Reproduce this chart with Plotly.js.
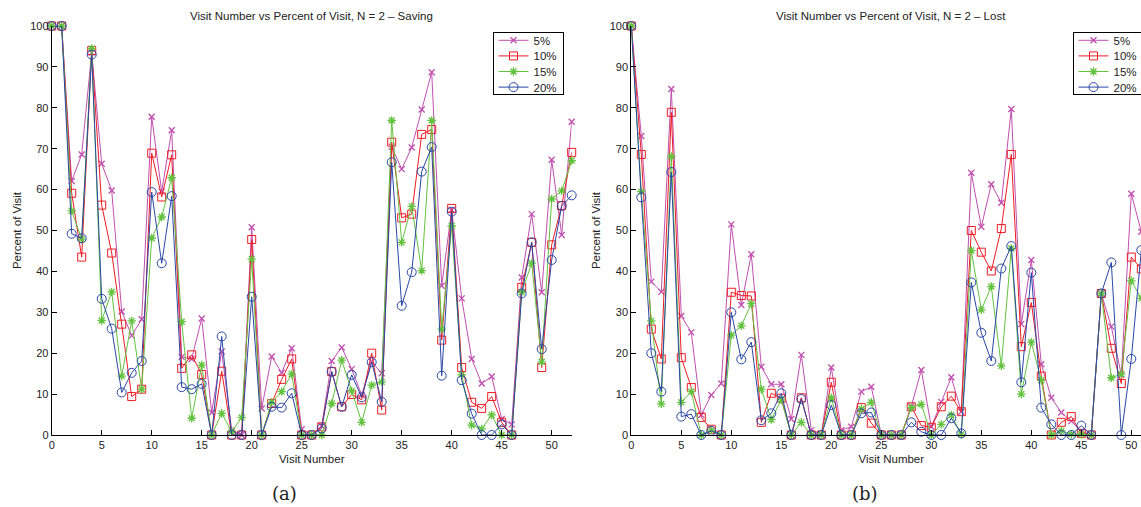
<!DOCTYPE html>
<html>
<head>
<meta charset="utf-8">
<script src="https://cdn.plot.ly/plotly-3.0.1.min.js"></script>
<style>
  html, body { margin: 0; padding: 0; overflow: hidden; background: #fff; }
  #chart { width: 1160px; height: 507px; }
</style>
</head>
<body>
<div id="chart"></div>
<script>
// Visit numbers (x values shared by every series)
const visits = [0,1,2,3,4,5,6,7,8,9,10,11,12,13,14,15,16,17,18,19,20,21,22,23,24,25,
                26,27,28,29,30,31,32,33,34,35,36,37,38,39,40,41,42,43,44,45,46,47,48,49,50,51,52];

const seriesNames = ["5%", "10%", "15%", "20%"];

// (a) Saving — percent of visit per threshold
const saving5  = [100,100,62.1,68.6,93.5,66.3,59.8,30.2,24.3,28.3,77.8,59.5,74.5,19.1,18.6,28.5,5.5,20.4,1.2,0,50.8,6.5,19.2,15.2,21.2,1.4,0,2.2,18.1,21.4,16.1,9.8,17.9,15.1,70.5,65.0,70.3,79.6,88.7,36.5,55.0,33.4,18.6,12.6,14.3,3.9,2.6,38.5,54.0,34.9,67.3,48.9,76.6];
const saving10 = [100,100,59.1,43.5,94.0,56.2,44.5,27.1,9.4,11.2,68.9,58.2,68.5,16.3,19.6,14.8,0,15.6,0,0,47.8,0,7.7,13.6,18.6,0,0,2.0,15.5,6.9,9.9,8.6,20.0,6.1,71.6,53.1,54.0,73.5,74.7,23.2,55.4,16.5,8.0,6.5,9.4,3.1,0,36.1,47.1,16.5,46.5,56.1,69.1];
const saving15 = [100,100,54.8,47.9,94.5,28.0,35.0,14.4,27.9,11.2,48.1,53.3,62.9,27.7,4.1,17.1,0,5.3,0.8,4.3,43.0,0,8.0,10.6,14.9,0,0,0,7.7,18.3,10.8,3.1,12.2,13.0,76.9,47.1,55.9,40.2,76.9,25.9,51.1,14.7,2.4,1.5,4.9,0,0,34.9,42.0,17.9,57.7,59.7,67.1];
const saving20 = [100,100,49.2,48.1,93.0,33.3,26.0,10.4,15.2,18.1,59.4,42.0,58.4,11.7,11.2,12.5,0,24.1,0,0,33.8,0,6.9,6.7,10.2,0,0,1.6,15.5,6.9,14.7,9.2,17.8,8.1,66.7,31.6,39.8,64.4,70.4,14.5,54.6,13.4,5.2,0,0,2.6,0,34.6,47.1,21.0,42.8,56.0,58.6];

// (b) Lost — percent of visit per threshold
const lost5  = [100,73.1,37.5,35.0,84.6,29.1,25.1,4.9,9.8,12.6,51.5,31.8,44.2,16.7,12.4,12.4,3.9,19.6,1.2,0.2,16.5,1.2,2.0,10.6,11.8,0,0,0,7.0,15.9,2.0,8.1,14.1,5.7,64.1,50.9,61.3,56.8,79.7,27.1,42.8,17.3,9.1,5.5,3.4,0.8,0,34.6,26.5,14.7,59.0,49.7,55.0];
const lost10 = [100,68.6,25.9,18.6,78.9,18.9,11.6,4.3,1.4,0,34.9,34.1,34.0,3.1,10.2,9.0,0,9.1,0,0,12.9,0,0,6.7,2.9,0,0,0,6.9,2.3,1.9,6.9,9.5,5.7,50.0,44.7,40.1,50.5,68.6,21.6,32.4,14.4,0,3.1,4.5,0.4,0,34.6,21.2,12.6,43.5,40.6,42.0];
const lost15 = [100,59.5,27.9,7.6,68.1,8.0,10.6,0,1.2,0,24.4,26.7,32.1,11.2,3.8,8.6,0,3.1,0,0,9.1,0,0,6.4,8.0,0,0,0,6.7,7.5,0,2.6,4.9,0.2,45.1,30.6,36.3,16.9,45.6,10.0,22.7,13.4,0,1.0,0.2,0.2,0,34.6,14.0,14.9,37.7,33.4,36.0];
const lost20 = [100,58.1,20.0,10.6,64.3,4.5,5.1,0,1.0,0,30.0,18.5,22.7,3.6,5.3,10.2,0,8.8,0,0,7.3,0,0,5.3,5.5,0,0,0,3.1,0.8,0,0,4.1,0.4,37.3,25.0,18.1,40.7,46.2,12.9,39.7,6.7,2.6,0,0,2.3,0,34.6,42.2,0,18.6,45.2,47.0];

const xTicks = [0,5,10,15,20,25,30,35,40,45,50];
const yTicks = [0,10,20,30,40,50,60,70,80,90,100];

// Figure geometry in pixels
const W = 1160, H = 507;
const px = v => v / W;
const py = v => 1 - v / H;

const styles = [
  { color: "#c04fae", symbol: "x-thin-open",   size: 6, lw: 1.3 },
  { color: "#ee1c24", symbol: "square-open",   size: 8, lw: 1 },
  { color: "#62c23e", symbol: "asterisk-open", size: 7, lw: 1.3 },
  { color: "#2a47a6", symbol: "circle-open",   size: 9, lw: 1 }
];

function makeTraces(seriesList, xa, ya, legendId) {
  return seriesList.map((ys, i) => ({
    type: "scatter",
    mode: "lines+markers",
    x: visits,
    y: ys,
    xaxis: xa,
    yaxis: ya,
    name: seriesNames[i],
    legend: legendId,
    cliponaxis: false,
    line: { color: styles[i].color, width: 1 },
    marker: {
      symbol: styles[i].symbol,
      size: styles[i].size,
      color: styles[i].color,
      line: { color: styles[i].color, width: styles[i].lw }
    }
  }));
}

const data = [
  ...makeTraces([saving5, saving10, saving15, saving20], "x", "y", "legend"),
  ...makeTraces([lost5, lost10, lost15, lost20], "x2", "y2", "legend2")
];

const tickFont = { family: "Liberation Sans, Arial, sans-serif", size: 11, color: "#222" };
const titleFont = { family: "Liberation Sans, Arial, sans-serif", size: 11.5, color: "#222" };

function xAxis(d0, d1, anchor) {
  return {
    domain: [px(d0), px(d1)], anchor: anchor, range: [0, 52],
    tickvals: xTicks, ticks: "inside", ticklen: 5, tickcolor: "#000", tickwidth: 1,
    showline: true, linecolor: "#000", linewidth: 1, mirror: false,
    showgrid: false, zeroline: false, tickfont: tickFont, automargin: false,
    title: { text: "Visit Number", font: titleFont, standoff: 4 }
  };
}
function yAxis(anchor) {
  return {
    domain: [py(435), py(26)], anchor: anchor, range: [0, 100],
    tickvals: yTicks, ticks: "inside", ticklen: 5, tickcolor: "#000", tickwidth: 1,
    showline: true, linecolor: "#000", linewidth: 1, mirror: false,
    showgrid: false, zeroline: false, tickfont: tickFont, automargin: false,
    title: { text: "Percent of Visit", font: titleFont, standoff: 6 }
  };
}

const legendBase = {
  bgcolor: "#fff", bordercolor: "#000", borderwidth: 1,
  font: { family: "Liberation Sans, Arial, sans-serif", size: 11.5, color: "#222" },
  xanchor: "left", yanchor: "top", tracegroupgap: 0, itemwidth: 30
};

const layout = {
  width: W, height: H,
  margin: { l: 0, r: 0, t: 0, b: 0 },
  paper_bgcolor: "#fff", plot_bgcolor: "#fff",
  showlegend: true,
  xaxis: xAxis(51.7, 571.7, "y"),
  yaxis: yAxis("x"),
  xaxis2: xAxis(631.3, 1151.3, "y2"),
  yaxis2: yAxis("x2"),
  legend: Object.assign({ x: px(492.5), y: py(31.5) }, legendBase),
  legend2: Object.assign({ x: px(1072.5), y: py(31.5) }, legendBase),
  annotations: [
    { text: "Visit Number vs Percent of Visit, N = 2 – Saving", xref: "paper", yref: "paper",
      x: px(311.7), y: py(16), xanchor: "center", yanchor: "middle", showarrow: false, font: titleFont },
    { text: "Visit Number vs Percent of Visit, N = 2 – Lost", xref: "paper", yref: "paper",
      x: px(891.3), y: py(16), xanchor: "center", yanchor: "middle", showarrow: false, font: titleFont },
    { text: "(a)", xref: "paper", yref: "paper", x: px(284), y: py(493),
      xanchor: "center", yanchor: "middle", showarrow: false,
      font: { family: "DejaVu Serif, Liberation Serif, serif", size: 18, color: "#222" } },
    { text: "(b)", xref: "paper", yref: "paper", x: px(865), y: py(493),
      xanchor: "center", yanchor: "middle", showarrow: false,
      font: { family: "DejaVu Serif, Liberation Serif, serif", size: 18, color: "#222" } }
  ]
};

// Tighten the legend rows: fixed row pitch and a box that hugs the four entries
function compactLegends(gd) {
  const STEP = 15.6, FIRST = 8.8, BOTTOM = 7.2;
  gd.querySelectorAll("g.legend, g.legend2").forEach(lg => {
    const items = Array.from(lg.querySelectorAll("g.traces"));
    if (!items.length) return;
    const m = /translate\(\s*([-\d.]+)[ ,]+([-\d.]+)\s*\)/.exec(items[0].getAttribute("transform") || "");
    if (!m) return;
    const x0 = parseFloat(m[1]);
    const bg = lg.querySelector("rect.bg");
    const groups = lg.querySelector("g.groups");
    let gy = 0;
    if (groups) {
      const gm = /translate\(\s*([-\d.]+)[ ,]+([-\d.]+)\s*\)/.exec(groups.getAttribute("transform") || "");
      if (gm) gy = parseFloat(gm[2]);
    }
    items.forEach((it, i) => it.setAttribute("transform", `translate(${x0},${FIRST - gy + i * STEP})`));
    if (bg) bg.setAttribute("height", FIRST + (items.length - 1) * STEP + BOTTOM);
  });
}

Plotly.newPlot("chart", data, layout, { staticPlot: true, displayModeBar: false })
  .then(compactLegends);
</script>
</body>
</html>
